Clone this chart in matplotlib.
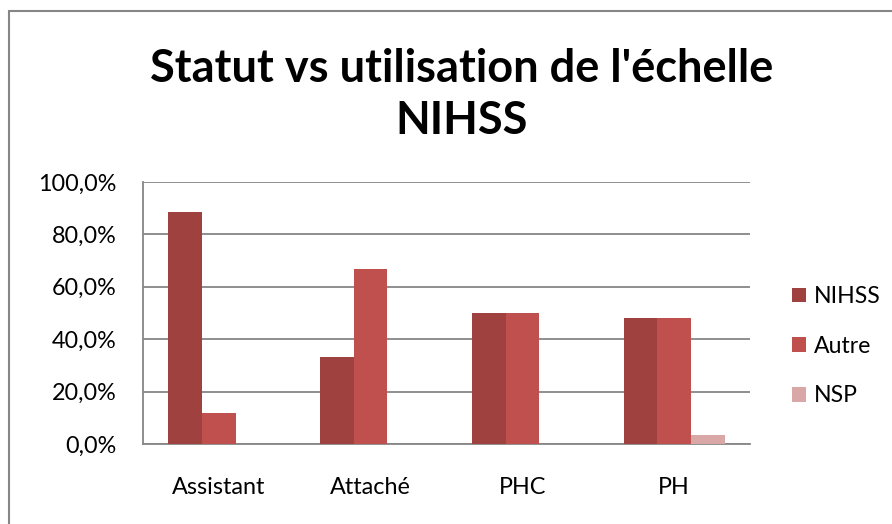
import numpy as np
import matplotlib.pyplot as plt
from matplotlib.patches import Rectangle

plt.rcParams['font.family'] = ['Lato', 'DejaVu Sans']

statuts = ['Assistant', 'Attaché', 'PHC', 'PH']
series = ['NIHSS', 'Autre', 'NSP']
nihss = [88.5, 33.3, 50.0, 48.2]
autre = [12.0, 66.7, 50.0, 48.2]
nsp = [0.0, 0.0, 0.0, 3.6]
couleurs = ['#9E413F', '#C0504D', '#D9A7A6']

fig = plt.figure(figsize=(8.92, 5.24), dpi=100)
ax = fig.add_axes([0.1603, 0.1527, 0.6805, 0.5000])

# clustered bars, gap = 1.5 bar widths
w = 1 / 4.5
x = np.arange(len(statuts))
start = x - 0.5 + 0.75 * w
for j, (vals, c, nom) in enumerate(zip([nihss, autre, nsp], couleurs, series)):
    ax.bar(start + j * w, vals, width=w, align='edge', color=c, label=nom,
           zorder=3)

ax.set_xlim(-0.5, len(statuts) - 0.5)
ax.set_ylim(0, 100)
yt = np.arange(0, 101, 20)
ax.set_yticks(yt)
ax.set_yticklabels(['{:.1f}%'.format(v).replace('.', ',') for v in yt])
ax.set_xticks(x)
ax.set_xticklabels(statuts)
ax.tick_params(length=0, labelsize=16.8, colors='black')
ax.tick_params(axis='y', pad=19)
ax.tick_params(axis='x', pad=24)
ax.yaxis.grid(True, color='#868686', lw=1.3, zorder=1)
for s in ['top', 'right']:
    ax.spines[s].set_visible(False)
for s in ['left', 'bottom']:
    ax.spines[s].set_color('#868686')
    ax.spines[s].set_linewidth(1.3)

leg = fig.legend(loc='center left', bbox_to_anchor=(0.8645, 0.339), frameon=False,
                 fontsize=16.6, handlelength=0.6, handleheight=0.6,
                 handletextpad=0.35, labelspacing=1.24)

fig.text(0.518, 0.818, "Statut vs utilisation de l'échelle\nNIHSS",
         ha='center', va='center', fontsize=32.5, fontweight='bold',
         linespacing=1.3)

# chart area frame
fig.patches.append(Rectangle((8.5 / 892, -0.1), 1.2, 1 - 11 / 524 + 0.1,
                             transform=fig.transFigure, fill=False,
                             edgecolor='#868686', lw=1.5))

fig.savefig('out.png', dpi=100)
